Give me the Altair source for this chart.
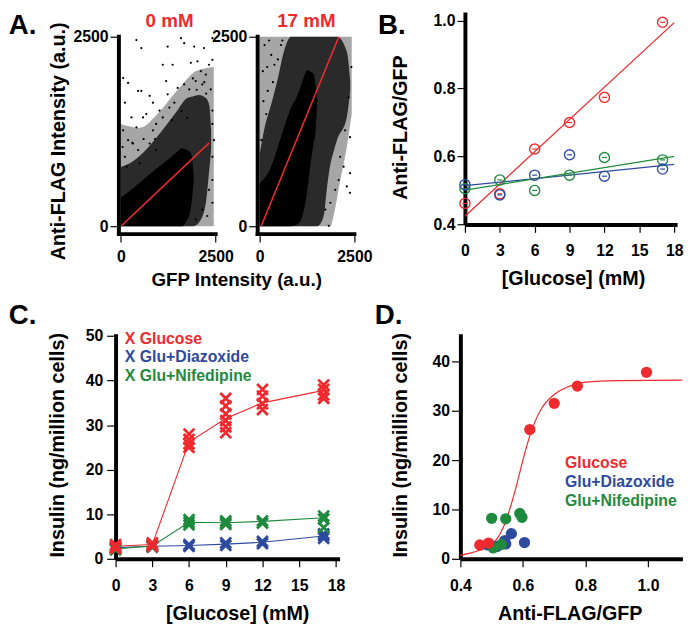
import altair as alt
import pandas as pd

FONT = "Liberation Sans"
RED = "#ee2a2e"
BLUE = "#2e4a9e"
GREEN = "#1f8a3e"

# ---------------- Panel A data ----------------
# 0 mM: sparse dots outside the dense cloud
a0_dot_x = [410, 540, 1585, 1670, 1935, 2195, 2415, 1235, 1365, 1105, 1845, 2020, 2325, 2415, 2110, 2240,
            60, 190, 455, 540, 760, 845, 1195, 1235, 1500, 1670, 1805, 1975, 2150, 2370,
            105, 280, 410, 585, 670, 845, 930, 1020, 1105, 1280, 1410, 60, 45, 105, 190, 320, 455,
            2415, 2415, 2455, 2415, 2415, 2325, 2280, 2150, 1975, 2415, 150, 495, 760, 930,
            1600, 1750, 2000, 2250, 1350, 900, 600, 300, 1900, 2200]
a0_dot_y = [2455, 2350, 2480, 2415, 2370, 2350, 2480, 2370, 2130, 2130, 2155, 2175, 2130, 2195, 2045, 2000,
            1955, 1890, 1785, 1785, 1720, 1630, 1915, 1740, 1825, 1870, 1805, 1915, 1870, 1805,
            1630, 1435, 1305, 1435, 1480, 1265, 1350, 1525, 1435, 1565, 1630, 1265, 1045, 915, 1135, 1090, 1005,
            1525, 1350, 1135, 915, 610, 480, 135, 220, 90, 310, 785, 830, 1090, 1005,
            1520, 1430, 1800, 1750, 1400, 1150, 1150, 1100, 1950, 1900]
# 0 mM: density bands (x, lower, upper)
a0_light_x = [0, 500, 1000, 1500, 2000, 2450]
a0_light_lo = [0, 0, 0, 0, 0, 0]
a0_light_hi = [1350, 1300, 1500, 1800, 2050, 2100]
a0_mid_x = [0, 300, 700, 1100, 1450, 1750, 1900, 2060, 2240, 2330, 2380]
a0_mid_lo = [0, 0, 0, 0, 0, 0, 0, 50, 300, 740, 1000]
a0_mid_hi = [780, 850, 1030, 1270, 1500, 1690, 1710, 1730, 1690, 1600, 1260]
a0_core_x = [0, 320, 670, 1020, 1370, 1630, 1700, 1850, 1920]
a0_core_lo = [0, 0, 0, 0, 0, 0, 40, 250, 600]
a0_core_hi = [380, 500, 650, 790, 930, 1030, 1020, 960, 660]
a0_fit_x = [0, 2330]
a0_fit_y = [0, 1100]

# 17 mM
a17_dot_x = [2125, 2215, 2385, 2300, 2385, 1825, 2085, 1995, 2255, 2385, 1865, 1735,
             130, 305, 85, 215, 390, 175, 45, 565, 250, 480, 100, 350, 600, 200, 2420, 2350]
a17_dot_y = [915, 785, 700, 525, 440, 5, 610, 480, 1265, 1175, 310, 220,
             2390, 2260, 2045, 1785, 2130, 1480, 1135, 2390, 2450, 2200, 1650, 1900, 2450, 2100, 2100, 1700]
a17_light_x = [0, 1870, 1950, 2130, 2300, 2430]
a17_light_lo = [0, 0, 135, 612, 1046, 1480]
a17_light_hi = [2500, 2500, 2500, 2500, 2500, 2500]
a17_mid_x = [0, 130, 300, 480, 650, 825, 1520, 1690, 1780, 1870, 1950, 2040, 2300, 2390]
a17_mid_lo = [0, 0, 0, 0, 0, 0, 0, 135, 525, 829, 980, 1133, 1437, 1800]
a17_mid_hi = [950, 1300, 1600, 1950, 2320, 2500, 2500, 2500, 2500, 2500, 2500, 2500, 2305, 1914]
a17_core_x = [0, 300, 560, 825, 1000, 1085, 1170, 1260, 1345, 1430, 1480, 1520]
a17_core_lo = [0, 0, 0, 0, 26, 80, 221, 482, 829, 1110, 1263, 1690]
a17_core_hi = [560, 780, 1170, 1560, 1730, 1850, 1970, 2060, 2040, 2001, 1830, 1700]
a17_fit_x = [40, 2090]
a17_fit_y = [0, 2500]

# ---------------- Panel B / C / D data ----------------
glucose = [0, 3, 6, 9, 12, 17]
series = ["Glucose", "Glu+Diazoxide", "Glu+Nifedipine"]
colors = [RED, BLUE, GREEN]
ratio = {
    "Glucose": [0.462, 0.490, 0.622, 0.700, 0.774, 0.995],
    "Glu+Diazoxide": [0.517, 0.487, 0.545, 0.605, 0.542, 0.563],
    "Glu+Nifedipine": [0.505, 0.531, 0.500, 0.545, 0.597, 0.590],
}
fit_x = [0, 18]
fit_ratio = {
    "Glucose": [0.424, 0.994],
    "Glu+Diazoxide": [0.514, 0.577],
    "Glu+Nifedipine": [0.501, 0.600],
}
insulin_mean = {
    "Glucose": [2.8, 3.2, 26.2, 31.5, 35.0, 37.8],
    "Glu+Diazoxide": [2.5, 2.8, 3.0, 3.3, 3.7, 5.1],
    "Glu+Nifedipine": [2.2, 2.9, 8.2, 8.1, 8.4, 9.2],
}
insulin_reps = {
    "Glucose": [[2.3, 2.8, 3.2], [2.8, 3.2, 3.6], [25.0, 25.8, 26.8, 28.0],
                [28.3, 29.6, 31.0, 32.5, 34.3, 36.0], [33.5, 34.8, 36.5, 38.0], [36.0, 36.8, 38.0, 39.0]],
    "Glu+Diazoxide": [[2.3, 2.7], [2.6, 3.0], [2.8, 3.2], [3.0, 3.6], [3.4, 3.9], [4.6, 5.2, 5.6]],
    "Glu+Nifedipine": [[2.0, 2.4], [2.7, 3.1], [7.6, 8.2, 8.8], [7.7, 8.1, 8.5], [8.0, 8.5], [7.0, 8.9, 9.6]],
}
curve_x = [0.40, 0.44, 0.48, 0.50, 0.52, 0.54, 0.56, 0.58, 0.60, 0.62, 0.64, 0.66, 0.70, 0.75, 0.80, 0.90, 1.11]
curve_y = [0.7, 1.3, 2.2, 3.0, 4.3, 6.8, 10.5, 15.0, 20.0, 24.5, 28.0, 30.5, 33.3, 35.0, 35.8, 36.1, 36.2]

TICK_FS = 16
TITLE_FS = 20


def axis(values, fmt=None, domain=True, offset=0, tick=8, pad=10):
    kw = dict(values=values, title=None, grid=False, domain=domain, domainColor="black",
              domainWidth=4, ticks=True, tickColor="black", tickWidth=1.2, tickSize=tick,
              labelFont=FONT, labelFontWeight="bold", labelFontSize=TICK_FS, labelColor="black",
              labelPadding=pad, offset=offset, labelOverlap=False, labelFlush=False)
    if fmt:
        kw["format"] = fmt
    return alt.Axis(**kw)


def label(text, x, y, size=TITLE_FS, color="black", angle=0, align="center", baseline="middle"):
    return alt.Chart(pd.DataFrame({"t": [text]})).mark_text(
        font=FONT, fontWeight="bold", fontSize=size, color=color, angle=angle,
        align=align, baseline=baseline).encode(text="t:N", x=alt.value(x), y=alt.value(y))


# ---------------- Panel A ----------------
def panel_a(dx, dy, light, mid, core, fx, fy, xdom, width, yoff, extra):
    sx = alt.Scale(domain=xdom, nice=False, zero=False)
    sy = alt.Scale(domain=[-104, 2825], nice=False, zero=False)
    ax_x = axis([0, 2500], fmt="d", domain=False, tick=8, pad=7)
    ax_y = axis([0, 2500], fmt="d", domain=False, offset=yoff, tick=9, pad=2)
    layers = []
    for (bx, blo, bhi), op in zip([light, mid, core], [0.35, 0.75, 1.0]):
        df = pd.DataFrame({"x": bx, "lo": blo, "hi": bhi})
        layers.append(alt.Chart(df).mark_area(color="black", opacity=op, interpolate="monotone").encode(
            x=alt.X("x:Q", scale=sx, axis=ax_x), y=alt.Y("lo:Q", scale=sy, axis=ax_y), y2="hi:Q"))
    dots = pd.DataFrame({"x": dx, "y": dy})
    layers.append(alt.Chart(dots).mark_circle(size=5, color="black", opacity=1).encode(
        x=alt.X("x:Q", scale=sx, axis=ax_x), y=alt.Y("y:Q", scale=sy, axis=ax_y)))
    fit = pd.DataFrame({"x": fx, "y": fy})
    layers.append(alt.Chart(fit).mark_line(color=RED, strokeWidth=1.6).encode(
        x=alt.X("x:Q", scale=sx, axis=ax_x), y=alt.Y("y:Q", scale=sy, axis=ax_y)))
    vline = pd.DataFrame({"x": [-52], "y": [-104], "y2": [2500]})
    layers.append(alt.Chart(vline).mark_rule(color="black", strokeWidth=4, strokeCap="square").encode(
        x=alt.X("x:Q", scale=sx, axis=ax_x), y=alt.Y("y:Q", scale=sy, axis=ax_y), y2="y2:Q"))
    hline = pd.DataFrame({"x": [-52], "x2": [2500], "y": [-104]})
    layers.append(alt.Chart(hline).mark_rule(color="black", strokeWidth=4, strokeCap="square").encode(
        x=alt.X("x:Q", scale=sx, axis=ax_x), x2="x2:Q", y=alt.Y("y:Q", scale=sy, axis=ax_y)))
    layers += extra
    return alt.layer(*layers).properties(width=width, height=225)


A_left = panel_a(a0_dot_x, a0_dot_y,
                 (a0_light_x, a0_light_lo, a0_light_hi), (a0_mid_x, a0_mid_lo, a0_mid_hi),
                 (a0_core_x, a0_core_lo, a0_core_hi), a0_fit_x, a0_fit_y,
                 [-140, 2500], 101.4, -3.4,
                 [label("A.", -108.3, 0, size=28, align="left", baseline="top"),
                  label("0 mM", 54.7, 0, size=19, color=RED, baseline="top"),
                  label("Anti-FLAG Intensity (a.u.)", -57.3, 131, angle=270),
                  label("GFP Intensity (a.u.)", 122.7, 272, size=19)])
A_right = panel_a(a17_dot_x, a17_dot_y,
                  (a17_light_x, a17_light_lo, a17_light_hi), (a17_mid_x, a17_mid_lo, a17_mid_hi),
                  (a17_core_x, a17_core_lo, a17_core_hi), a17_fit_x, a17_fit_y,
                  [-52, 4305], 167.3, 0,
                  [label("17 mM", 49.3, 0, size=19, color=RED, baseline="top")])

# ---------------- Panel B ----------------
sxB = alt.Scale(domain=[0, 18.25], nice=False)
syB = alt.Scale(domain=[0.4, 1.025], nice=False, zero=False)
axBx = axis([0, 3, 6, 9, 12, 15, 18], tick=8, pad=10)
axBy = axis([0.4, 0.6, 0.8, 1.0], fmt=".1f", tick=8, pad=2)
b_layers = []
for s, c in zip(series, colors):
    df = pd.DataFrame({"x": fit_x, "y": fit_ratio[s]})
    b_layers.append(alt.Chart(df).mark_line(color=c, strokeWidth=1.3).encode(
        x=alt.X("x:Q", scale=sxB, axis=axBx), y=alt.Y("y:Q", scale=syB, axis=axBy)))
for s, c in [(series[0], RED), (series[2], GREEN), (series[1], BLUE)]:
    df = pd.DataFrame({"x": glucose, "y": ratio[s]})
    b_layers.append(alt.Chart(df).mark_point(shape="circle", filled=False, color=c, size=105,
                                             strokeWidth=1.4, opacity=1).encode(
        x=alt.X("x:Q", scale=sxB, axis=axBx), y=alt.Y("y:Q", scale=syB, axis=axBy)))
    b_layers.append(alt.Chart(df).mark_point(shape="stroke", filled=False, color=c, size=25,
                                             strokeWidth=1.2, opacity=1).encode(
        x=alt.X("x:Q", scale=sxB, axis=axBx), y=alt.Y("y:Q", scale=syB, axis=axBy)))
b_layers += [label("B.", -88, 0, size=28, align="left", baseline="top"),
             label("Anti-FLAG/GFP", -65, 117, angle=270),
             label("[Glucose] (mM)", 110, 271)]
B = alt.layer(*b_layers).properties(width=215, height=215.2)

# ---------------- Panel C ----------------
sxC = alt.Scale(domain=[0, 18.3], nice=False)
syC = alt.Scale(domain=[0, 50.5], nice=False)
axCx = axis([0, 3, 6, 9, 12, 15, 18], tick=8, pad=11)
axCy = axis([0, 10, 20, 30, 40, 50], tick=9, pad=4)
XSHAPE = "M-1,-1L1,1M-1,1L1,-1"
c_layers = []
for s, c in [(series[1], BLUE), (series[2], GREEN), (series[0], RED)]:
    dfm = pd.DataFrame({"x": glucose, "y": insulin_mean[s]})
    c_layers.append(alt.Chart(dfm).mark_line(color=c, strokeWidth=1.1).encode(
        x=alt.X("x:Q", scale=sxC, axis=axCx), y=alt.Y("y:Q", scale=syC, axis=axCy)))
for s, c in [(series[1], BLUE), (series[2], GREEN), (series[0], RED)]:
    xs, ys = [], []
    for g, reps in zip(glucose, insulin_reps[s]):
        for r in reps:
            xs.append(g)
            ys.append(r)
    dfr = pd.DataFrame({"x": xs, "y": ys})
    c_layers.append(alt.Chart(dfr).mark_point(shape=XSHAPE, filled=False, color=c, size=120,
                                              strokeWidth=2.8, opacity=1).encode(
        x=alt.X("x:Q", scale=sxC, axis=axCx), y=alt.Y("y:Q", scale=syC, axis=axCy)))
for i, (s, c) in enumerate(zip(series, colors)):
    c_layers.append(label("X " + s, 9.4, [5.3, 23.7, 42.7][i], size=16, color=c, align="left"))
c_layers += [label("C.", -108.3, -32, size=28, align="left", baseline="top"),
             label("Insulin (ng/million cells)", -58.3, 113, angle=270),
             label("[Glucose] (mM)", 123.7, 284)]
C = alt.layer(*c_layers).properties(width=227, height=228)

# ---------------- Panel D ----------------
sxD = alt.Scale(domain=[0.4, 1.11], nice=False, zero=False)
syD = alt.Scale(domain=[0, 45.6], nice=False)
axDx = axis([0.4, 0.6, 0.8, 1.0], fmt=".1f", tick=8, pad=11)
axDy = axis([0, 10, 20, 30, 40], tick=9, pad=2)
d_layers = []
dfc = pd.DataFrame({"x": curve_x, "y": curve_y})
d_layers.append(alt.Chart(dfc).mark_line(color=RED, strokeWidth=1.2, interpolate="monotone").encode(
    x=alt.X("x:Q", scale=sxD, axis=axDx), y=alt.Y("y:Q", scale=syD, axis=axDy)))
for s, c in [(series[1], BLUE), (series[2], GREEN), (series[0], RED)]:
    df = pd.DataFrame({"x": ratio[s], "y": insulin_mean[s]})
    d_layers.append(alt.Chart(df).mark_circle(color=c, size=130, opacity=1).encode(
        x=alt.X("x:Q", scale=sxD, axis=axDx), y=alt.Y("y:Q", scale=syD, axis=axDy)))
for i, (s, c) in enumerate(zip(series, colors)):
    d_layers.append(label(s, 106, [131, 150, 169][i], size=16, color=c, align="left"))
d_layers += [label("D.", -86.7, -32, size=28, align="left", baseline="top"),
             label("Insulin (ng/million cells)", -59.7, 113, angle=270),
             label("Anti-FLAG/GFP", 111.3, 284)]
D = alt.layer(*d_layers).properties(width=225, height=228)

row1 = alt.hconcat(A_left, A_right, B, spacing=42, bounds="flush")
row2 = alt.hconcat(C, D, spacing=122.4, bounds="flush")
chart = alt.vconcat(row1, row2, spacing=12).configure_view(stroke=None).properties(
    padding=0, background="white")

chart.save("out.html", embed_options={"renderer": "svg", "actions": False})
